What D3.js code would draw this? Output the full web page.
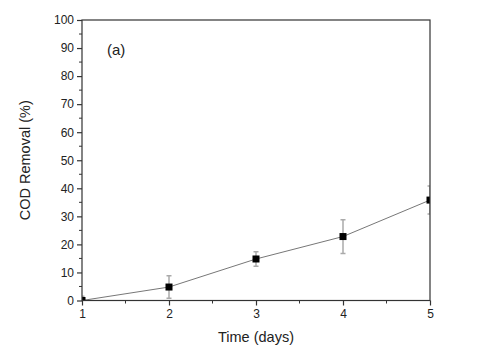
<!DOCTYPE html>
<html><head><meta charset="utf-8">
<script src="https://cdn.jsdelivr.net/npm/d3@7"></script>
<style>body{margin:0;background:#fff}svg{display:block}text{font-family:"Liberation Sans",Arial,sans-serif;fill:#222}</style>
</head><body>
<svg id="c" width="480" height="363"></svg>
<script>
const days = [1, 2, 3, 4, 5];
const removal = [0, 4.8, 14.8, 22.8, 35.8];
const errors = [1.5, 4, 2.6, 6, 5];
const yTicks = [0, 10, 20, 30, 40, 50, 60, 70, 80, 90, 100];
const xTicks = [1, 2, 3, 4, 5];

const svg = d3.select("#c");
const L = 82, R = 430, T = 20, B = 300.5;
const x = d3.scaleLinear().domain([1, 5]).range([L, R]);
const y = d3.scaleLinear().domain([0, 100]).range([B, T]);
const axisColor = "#333";

svg.append("defs").append("clipPath").attr("id", "clip")
  .append("rect").attr("x", L).attr("y", T).attr("width", R - L).attr("height", B - T);

const data = days.map((d, i) => ({d, v: removal[i], e: errors[i]}));
const plot = svg.append("g").attr("clip-path", "url(#clip)");

// line
plot.append("path").datum(data)
  .attr("d", d3.line().x(p => x(p.d)).y(p => y(p.v)))
  .attr("fill", "none").attr("stroke", "#777").attr("stroke-width", 1);

// error bars
const eb = plot.append("g").attr("stroke", "#aaa").attr("stroke-width", 1.5);
data.forEach(p => {
  const cx = x(p.d);
  eb.append("line").attr("x1", cx).attr("x2", cx).attr("y1", y(p.v - p.e)).attr("y2", y(p.v + p.e));
  eb.append("line").attr("x1", cx - 2.5).attr("x2", cx + 2.5).attr("y1", y(p.v - p.e)).attr("y2", y(p.v - p.e));
  eb.append("line").attr("x1", cx - 2.5).attr("x2", cx + 2.5).attr("y1", y(p.v + p.e)).attr("y2", y(p.v + p.e));
});

// markers
plot.append("g").selectAll("rect").data(data).join("rect")
  .attr("x", p => x(p.d) - 3.5).attr("y", p => y(p.v) - 3.5)
  .attr("width", 7).attr("height", 7).attr("fill", "#000");

// frame
svg.append("rect").attr("x", L).attr("y", T).attr("width", R - L).attr("height", B - T)
  .attr("fill", "none").attr("stroke", axisColor).attr("stroke-width", 1.2);

// y axis
const ya = svg.append("g").attr("transform", `translate(${L},0)`)
  .call(d3.axisLeft(y).tickValues(yTicks).tickSize(5).tickPadding(3));
ya.select(".domain").remove();
ya.selectAll("line").attr("stroke", axisColor).attr("stroke-width", 1.2);
ya.selectAll("text").attr("font-size", 12).style("font-family", '"Liberation Sans",Arial,sans-serif').attr("fill", "#222");
svg.append("g").selectAll("line").data(d3.range(5, 100, 10)).join("line")
  .attr("x1", L - 3).attr("x2", L).attr("y1", d => y(d)).attr("y2", d => y(d))
  .attr("stroke", axisColor).attr("stroke-width", 1);

// x axis
const xa = svg.append("g").attr("transform", `translate(0,${B})`)
  .call(d3.axisBottom(x).tickValues(xTicks).tickFormat(d3.format("d")).tickSize(5).tickPadding(4));
xa.select(".domain").remove();
xa.selectAll("line").attr("stroke", axisColor).attr("stroke-width", 1.2);
xa.selectAll("text").attr("font-size", 12).style("font-family", '"Liberation Sans",Arial,sans-serif').attr("fill", "#222");
svg.append("g").selectAll("line").data([1.5, 2.5, 3.5, 4.5]).join("line")
  .attr("x1", d => x(d)).attr("x2", d => x(d)).attr("y1", B).attr("y2", B + 3)
  .attr("stroke", axisColor).attr("stroke-width", 1);

// labels
svg.append("text").attr("x", 107).attr("y", 55).attr("font-size", 15).text("(a)");
svg.append("text").attr("x", (L + R) / 2).attr("y", 342).attr("text-anchor", "middle")
  .attr("font-size", 14.5).text("Time (days)");
svg.append("text").attr("transform", `translate(30,${(T + B) / 2}) rotate(-90)`)
  .attr("text-anchor", "middle").attr("font-size", 14.5).text("COD Removal (%)");
</script>
</body></html>
